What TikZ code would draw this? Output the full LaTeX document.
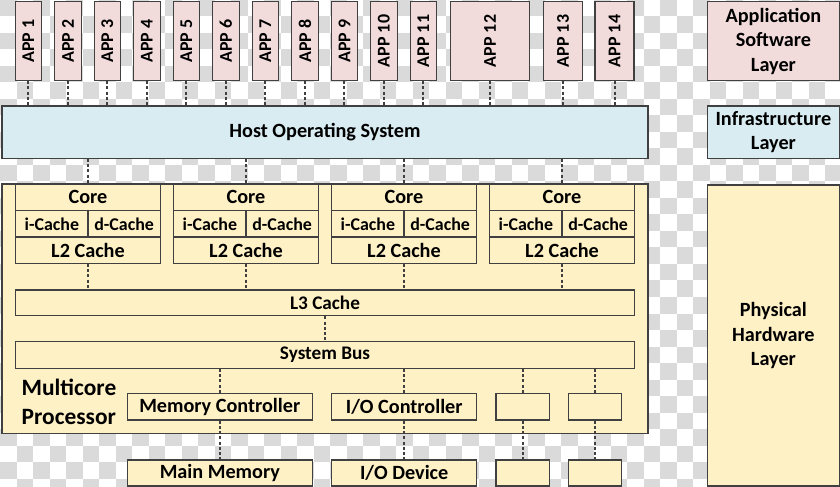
\documentclass[tikz,border=0pt]{standalone}
\usepackage{fontspec}
\setmainfont{Carlito}
\definecolor{appfill}{RGB}{242,220,219}
\definecolor{osfill}{RGB}{216,236,242}
\definecolor{hwfill}{RGB}{255,241,198}
\definecolor{edge}{RGB}{64,64,64}
\definecolor{chkgray}{RGB}{218,218,218}
\usepackage{tikz}

\begin{document}
\begin{tikzpicture}[x=1bp, y=-1bp,
    box/.style={draw=edge, line width=1.3bp, inner sep=0pt, align=center,
        font=\bfseries\fontsize{20.3}{24.5}\selectfont},
    appbox/.style={box, fill=appfill, minimum height=79bp,
        font=\bfseries\fontsize{18}{22}\selectfont},
    osbox/.style={box, fill=osfill, minimum height=52.3bp},
    hwbox/.style={box, fill=hwfill, minimum height=26.4bp},
    cachebox/.style={hwbox, minimum width=72.3bp,
        font=\bfseries\fontsize{18}{21}\selectfont},
    link/.style={draw=edge, line width=2bp, dash pattern=on 3bp off 2.2bp}]
    \useasboundingbox (0,0) rectangle (840,487);

    % Checkered background
    \begin{scope}
    \clip (0,0) rectangle (840,487);
    \fill[white] (0,0) rectangle (840,487);
    \foreach \r in {0,...,29}{
        \foreach \c in {0,...,50}{
            \pgfmathtruncatemacro{\chk}{mod(\r+\c,2)}
            \ifnum\chk=0 \fill[chkgray] (16.5*\c,16.5*\r) rectangle ++(16.5,16.5);\fi
        }
    }
    \end{scope}

    % Applications
    \node[appbox, minimum width=26.5bp] (app1) at (28.4,41) {\rotatebox{90}{APP 1}};
    \node[appbox, minimum width=26.5bp] (app2) at (67.9,41) {\rotatebox{90}{APP 2}};
    \node[appbox, minimum width=26.5bp] (app3) at (107.4,41) {\rotatebox{90}{APP 3}};
    \node[appbox, minimum width=26.5bp] (app4) at (146.9,41) {\rotatebox{90}{APP 4}};
    \node[appbox, minimum width=26.5bp] (app5) at (186.4,41) {\rotatebox{90}{APP 5}};
    \node[appbox, minimum width=26.5bp] (app6) at (225.9,41) {\rotatebox{90}{APP 6}};
    \node[appbox, minimum width=26.5bp] (app7) at (265.4,41) {\rotatebox{90}{APP 7}};
    \node[appbox, minimum width=26.5bp] (app8) at (304.9,41) {\rotatebox{90}{APP 8}};
    \node[appbox, minimum width=26.5bp] (app9) at (344.4,41) {\rotatebox{90}{APP 9}};
    \node[appbox, minimum width=26.5bp] (app10) at (383.9,41) {\rotatebox{90}{APP 10}};
    \node[appbox, minimum width=26.5bp] (app11) at (423.4,41) {\rotatebox{90}{APP 11}};
    \node[appbox, minimum width=78.6bp] (app12) at (490,41) {\rotatebox{90}{APP 12}};
    \node[appbox, minimum width=39.4bp] (app13) at (563,41) {\rotatebox{90}{APP 13}};
    \node[appbox, minimum width=39bp] (app14) at (614.5,41) {\rotatebox{90}{APP 14}};

    % Host operating system
    \node[osbox, minimum width=646bp] (os) at (325,132.2) {Host Operating System};
    \foreach \a in {app1,app2,app3,app4,app5,app6,app7,app8,app9,app10,app11,app12,app13,app14}
        \draw[link] (\a.south) -- (\a.south |- os.north);

    % Multicore processor frame
    \node[hwbox, minimum width=646bp, minimum height=249.3bp] (proc) at (325,308.7) {};
    \node[font=\bfseries\fontsize{23.5}{28.7}\selectfont, align=left, anchor=west,
        inner sep=0pt] (proclabel) at (21.5,401.8) {Multicore\\Processor};

    % Cores with private caches
    \node[hwbox, minimum width=144.6bp] (core1) at (88,197.3) {Core};
    \node[cachebox] (ic1) at (51.85,223.8) {i-Cache};
    \node[cachebox] (dc1) at (124.15,223.8) {d-Cache};
    \node[hwbox, minimum width=144.6bp] (l2c1) at (88,250.2) {L2 Cache};

    \node[hwbox, minimum width=144.6bp] (core2) at (246,197.3) {Core};
    \node[cachebox] (ic2) at (209.85,223.8) {i-Cache};
    \node[cachebox] (dc2) at (282.15,223.8) {d-Cache};
    \node[hwbox, minimum width=144.6bp] (l2c2) at (246,250.2) {L2 Cache};

    \node[hwbox, minimum width=144.6bp] (core3) at (404,197.3) {Core};
    \node[cachebox] (ic3) at (367.85,223.8) {i-Cache};
    \node[cachebox] (dc3) at (440.15,223.8) {d-Cache};
    \node[hwbox, minimum width=144.6bp] (l2c3) at (404,250.2) {L2 Cache};

    \node[hwbox, minimum width=144.6bp] (core4) at (562,197.3) {Core};
    \node[cachebox] (ic4) at (525.85,223.8) {i-Cache};
    \node[cachebox] (dc4) at (598.15,223.8) {d-Cache};
    \node[hwbox, minimum width=144.6bp] (l2c4) at (562,250.2) {L2 Cache};

    % Shared cache and bus
    \node[hwbox, minimum width=618.6bp, minimum height=25.7bp,
        font=\bfseries\fontsize{19.3}{23}\selectfont] (l3) at (325,302.9) {L3 Cache};
    \node[hwbox, minimum width=618.6bp, minimum height=26.6bp,
        font=\bfseries\fontsize{19.3}{23}\selectfont] (bus) at (325,355) {System Bus};

    \draw[link] (os.south -| core1.north) -- (core1.north);
    \draw[link] (os.south -| core2.north) -- (core2.north);
    \draw[link] (os.south -| core3.north) -- (core3.north);
    \draw[link] (os.south -| core4.north) -- (core4.north);
    \draw[link] (l2c1.south) -- (l2c1.south |- l3.north);
    \draw[link] (l2c2.south) -- (l2c2.south |- l3.north);
    \draw[link] (l2c3.south) -- (l2c3.south |- l3.north);
    \draw[link] (l2c4.south) -- (l2c4.south |- l3.north);
    \draw[link] (l3.south) -- (bus.north);

    % Controllers
    \node[hwbox, minimum width=185bp, minimum height=26.7bp] (memc) at (219.8,406.7) {Memory Controller};
    \node[hwbox, minimum width=145bp, minimum height=26.7bp] (ioc) at (404.2,406.7) {I/O Controller};
    \node[hwbox, minimum width=53.3bp, minimum height=26.7bp] (ctrlA) at (522.7,406.7) {};
    \node[hwbox, minimum width=53.4bp, minimum height=26.7bp] (ctrlB) at (595,406.7) {};

    % Devices
    \node[hwbox, minimum width=185bp, minimum height=26bp] (mem) at (219.8,473) {Main Memory};
    \node[hwbox, minimum width=145bp, minimum height=26bp] (iodev) at (404.2,473) {I/O Device};
    \node[hwbox, minimum width=53.3bp, minimum height=26bp] (devA) at (522.7,473) {};
    \node[hwbox, minimum width=53.4bp, minimum height=26bp] (devB) at (595,473) {};

    \draw[link] (bus.south -| memc.north) -- (memc.north);
    \draw[link] (bus.south -| ioc.north) -- (ioc.north);
    \draw[link] (bus.south -| ctrlA.north) -- (ctrlA.north);
    \draw[link] (bus.south -| ctrlB.north) -- (ctrlB.north);
    \draw[link] (memc.south) -- (mem.north);
    \draw[link] (ioc.south) -- (iodev.north);
    \draw[link] (ctrlA.south) -- (devA.north);
    \draw[link] (ctrlB.south) -- (devB.north);

    % Layer legend
    \node[box, fill=appfill, minimum width=131.8bp, minimum height=78.8bp] (appl) at (773.4,41.1) {Application\\Software\\Layer};
    \node[osbox, minimum width=131.8bp] (infl) at (773.4,132.2) {Infrastructure\\Layer};
    \node[hwbox, minimum width=131.8bp, minimum height=301bp] (phyl) at (773.4,335.5) {Physical\\Hardware\\Layer};
\end{tikzpicture}
\end{document}
